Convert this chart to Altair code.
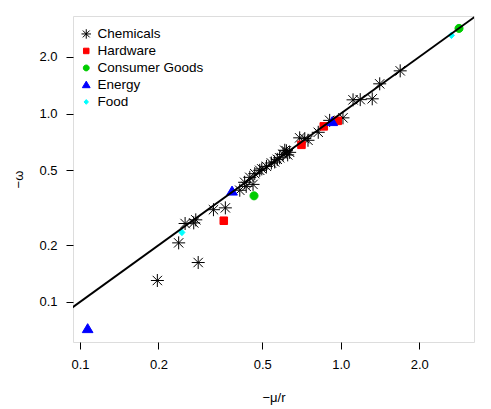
import altair as alt
import pandas as pd

categories = ["Chemicals", "Hardware", "Consumer Goods", "Energy", "Food"]
colors = ["#000000", "#FF0000", "#00CD00", "#0000FF", "#00FFFF"]

chem_x = [0.198, 0.284, 0.239, 0.253, 0.273, 0.278, 0.325, 0.361, 0.410, 0.428,
          0.448, 0.461, 0.468, 0.489, 0.519, 0.542, 0.558, 0.583, 0.601, 0.619,
          0.637, 0.610, 0.696, 0.728, 0.749, 0.820, 0.907, 1.020, 1.115, 1.188,
          1.321, 1.411, 1.691, 0.571, 0.626, 0.498, 0.434]
chem_y = [0.130, 0.162, 0.206, 0.261, 0.263, 0.273, 0.309, 0.316, 0.392, 0.432,
          0.459, 0.421, 0.480, 0.500, 0.525, 0.547, 0.554, 0.583, 0.608, 0.635,
          0.623, 0.639, 0.744, 0.737, 0.722, 0.796, 0.921, 0.950, 1.184, 1.187,
          1.199, 1.440, 1.688, 0.572, 0.604, 0.509, 0.411]
hard_x = [0.356, 0.707, 0.861, 0.974]
hard_y = [0.270, 0.683, 0.856, 0.916]
cons_x = [0.465, 2.843]
cons_y = [0.366, 2.836]
ener_x = [0.107, 0.383, 0.928]
ener_y = [0.072, 0.387, 0.905]
food_x = [0.246, 2.659]
food_y = [0.234, 2.604]

line_x = [0.05, 5.0]
line_y = [0.05, 5.0]

x_ticks = [0.1, 0.2, 0.5, 1.0, 2.0]
y_ticks = [0.1, 0.2, 0.5, 1.0, 2.0]

rows = []
for cat, xs, ys in [
    ("Chemicals", chem_x, chem_y),
    ("Hardware", hard_x, hard_y),
    ("Consumer Goods", cons_x, cons_y),
    ("Energy", ener_x, ener_y),
    ("Food", food_x, food_y),
]:
    for a, b in zip(xs, ys):
        rows.append({"x": a, "y": b, "sector": cat})
df = pd.DataFrame(rows)
line_df = pd.DataFrame({"x": line_x, "y": line_y})

shapes = [
    "M-1,0L1,0M0,-1L0,1M-0.72,-0.72L0.72,0.72M-0.72,0.72L0.72,-0.72",
    "M-0.58,-0.58L0.58,-0.58L0.58,0.58L-0.58,0.58Z",
    "M0.62,0A0.62,0.62,0,1,1,-0.62,0A0.62,0.62,0,1,1,0.62,0Z",
    "M0,-0.8L0.82,0.58L-0.82,0.58Z",
    "M0,-0.5L0.46,0L0,0.5L-0.46,0Z",
]

FONT = "Liberation Sans"
xscale = alt.Scale(type="log", domain=[0.094, 3.245], nice=False, zero=False)
yscale = alt.Scale(type="log", domain=[0.0613, 3.30], nice=False, zero=False)

xaxis = alt.Axis(values=x_ticks, format=".1f", title="−μ/r", grid=False, domain=False,
                 tickSize=7, tickColor="black", tickWidth=1, labelColor="black",
                 labelFontSize=13, labelFont=FONT, labelPadding=9, labelFlush=False,
                 titleFont=FONT, titleFontSize=13, titleFontWeight="normal",
                 titleColor="black", titleY=55, titleBaseline="middle")
yaxis = alt.Axis(values=y_ticks, format=".1f", title="−ω", grid=False, domain=False,
                 tickSize=7, tickColor="black", tickWidth=1, labelColor="black",
                 labelFontSize=13, labelFont=FONT, labelPadding=9, labelFlush=False,
                 titleFont=FONT, titleFontSize=13, titleFontWeight="normal",
                 titleColor="black", titleX=-55, titleBaseline="middle")

legend = alt.Legend(title=None, orient="none", legendX=6.5, legendY=11.2, padding=0,
                    rowPadding=2.0, labelOffset=4.5, symbolSize=90, symbolStrokeWidth=1,
                    labelFont=FONT, labelFontSize=13.5, labelColor="black")

points = alt.Chart(df).mark_point(filled=True, size=169, strokeWidth=1, opacity=1).encode(
    x=alt.X("x:Q", scale=xscale, axis=xaxis),
    y=alt.Y("y:Q", scale=yscale, axis=yaxis),
    fill=alt.Fill("sector:N", scale=alt.Scale(domain=categories, range=colors), legend=legend),
    stroke=alt.Stroke("sector:N", scale=alt.Scale(domain=categories, range=colors), legend=legend),
    shape=alt.Shape("sector:N", scale=alt.Scale(domain=categories, range=shapes), legend=legend),
)

line = alt.Chart(line_df).mark_line(color="black", strokeWidth=2, clip=True).encode(
    x=alt.X("x:Q", scale=xscale, axis=xaxis),
    y=alt.Y("y:Q", scale=yscale, axis=yaxis),
)

chart = alt.layer(points, line).properties(
    width=401, height=326,
    autosize=alt.AutoSizeParams(type="none"),
    padding={"left": 65, "top": 8, "right": 9, "bottom": 66},
).configure_view(stroke="black", strokeWidth=1).configure(background="white")

chart.save("out.html", embed_options={"renderer": "svg", "actions": False})
